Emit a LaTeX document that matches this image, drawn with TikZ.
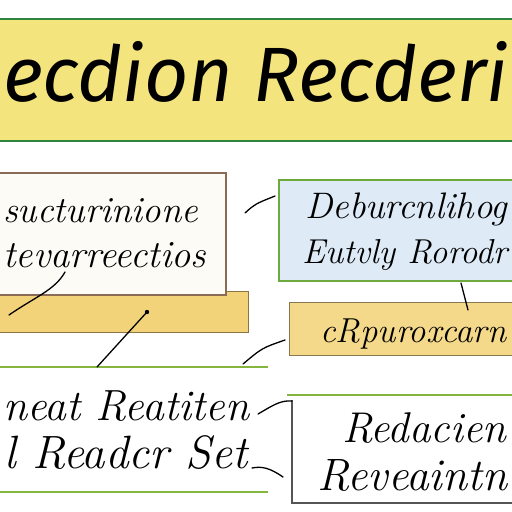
\documentclass[tikz,border=0pt]{standalone}
\usepackage{fontspec}
\newfontfamily\titlefont{Fira Sans}
\definecolor{titleyellow}{HTML}{F4E47E}
\definecolor{titlegreen}{HTML}{2E8540}
\definecolor{boxAfill}{HTML}{FCFBF6}
\definecolor{boxAdraw}{HTML}{8A6B55}
\definecolor{barfill}{HTML}{F2D37A}
\definecolor{bardraw}{HTML}{8C7445}
\definecolor{boxBfill}{HTML}{DEEAF6}
\definecolor{boxBdraw}{HTML}{6CAA3E}
\definecolor{boxCfill}{HTML}{F4D98A}
\definecolor{boxCdraw}{HTML}{86794E}
\definecolor{greenrule}{HTML}{84B53E}
\definecolor{grayrule}{HTML}{555555}
\newcommand{\fitw}[2]{\resizebox{#1}{!}{#2}}
\begin{document}
\begin{tikzpicture}[x=1pt,y=-1pt,
  panel/.style={anchor=north west, inner sep=0pt, outer sep=0pt},
  hand/.style={anchor=base west, inner sep=0pt, font=\itshape\fontsize{30}{30}\selectfont},
  conn/.style={line width=1.3pt, black, line cap=round},
  rule/.style={greenrule, line width=1.6pt}]
\clip (0,0) rectangle (512,512);
\fill[white] (0,0) rectangle (512,512);

% title banner
\node[panel, fill=titleyellow, minimum width=530pt, minimum height=122pt] (title) at (-9,19) {};
\draw[titlegreen, line width=2pt] (title.north west) -- (title.north east);
\draw[titlegreen, line width=2pt] (title.south west) -- (title.south east);
\node[anchor=base west, inner sep=0pt, font=\titlefont\itshape\fontsize{78}{78}\selectfont] (ttext) at (3,101) {\fitw{505pt}{ecdion Recderi}};

% left panels
\node[panel, fill=barfill, draw=bardraw, line width=1pt, minimum width=250pt, minimum height=41pt] (bar) at (-2,291) {};
\node[panel, fill=boxAfill, draw=boxAdraw, line width=1.2pt, minimum width=228pt, minimum height=122pt] (boxA) at (-2,173) {};
\node[hand] (a1) at (3,222) {\fitw{195pt}{sucturinione}};
\node[hand] (a2) at (3,267) {\fitw{203pt}{tevarreectios}};

% right panels
\node[panel, fill=boxBfill, draw=boxBdraw, line width=1.2pt, minimum width=240pt, minimum height=101pt] (boxB) at (279,180) {};
\node[hand] (b1) at (305,218) {\fitw{202pt}{Deburcnlihog}};
\node[hand] (b2) at (302,263) {\fitw{205pt}{Eutvly Rorodr}};
\node[panel, fill=boxCfill, draw=boxCdraw, line width=1pt, minimum width=230pt, minimum height=53pt] (boxC) at (289,302) {};
\node[hand] (c1) at (320,342) {\fitw{186pt}{cRpuroxcarn}};

% bottom left
\coordinate (r1a) at (0,367);  \coordinate (r1b) at (268,367);
\coordinate (r2a) at (0,492);  \coordinate (r2b) at (268,492);
\draw[rule] (r1a) -- (r1b);
\draw[rule] (r2a) -- (r2b);
\node[hand] (d1) at (3,420) {\fitw{246pt}{neat Reatiten}};
\node[hand] (d2) at (4,468) {\fitw{243pt}{l Readcr Set}};

% bottom right
\coordinate (r3a) at (287,395); \coordinate (r3b) at (512,395);
\draw[rule] (r3a) -- (r3b);
\coordinate (eTL) at (292,400); \coordinate (eBL) at (292,503); \coordinate (eBR) at (512,503);
\fill[white] (eTL) rectangle (eBR);
\draw[grayrule, line width=1.2pt] (eTL) -- (eBL) -- (eBR);
\node[hand] (e1) at (342,442) {\fitw{164pt}{Redacien}};
\node[hand] (e2) at (317,490) {\fitw{190pt}{Reveaintn}};

% connectors
\coordinate (l1a) at (9,315);   \coordinate (l1b) at (65,272);
\draw[conn] (l1a) .. controls (35,297) and (55,290) .. (l1b);
\coordinate (l2a) at (147,312); \coordinate (l2b) at (97,367);
\draw[conn] (l2a) -- (l2b);
\fill (l2a) circle (2.2pt);
\coordinate (l3a) at (245,213); \coordinate (l3b) at (275,196);
\draw[conn] (l3a) .. controls (255,204) .. (l3b);
\coordinate (l4a) at (461,283); \coordinate (l4b) at (468,310);
\draw[conn] (l4a) -- (l4b);
\coordinate (l5a) at (243,364); \coordinate (l5b) at (285,340);
\draw[conn] (l5a) .. controls (262,348) .. (l5b);
\coordinate (l6a) at (258,414); \coordinate (l6b) at (292,401);
\draw[conn] (l6a) .. controls (272,406) and (280,400) .. (l6b);
\coordinate (l7a) at (252,468); \coordinate (l7b) at (283,477);
\draw[conn] (l7a) .. controls (262,466) and (270,468) .. (l7b);
\end{tikzpicture}
\end{document}
